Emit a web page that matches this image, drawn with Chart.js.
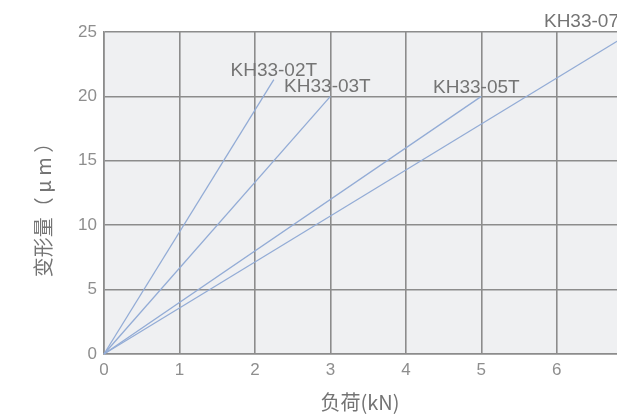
<!DOCTYPE html>
<html>
<head>
<meta charset="utf-8">
<script src="https://cdn.jsdelivr.net/npm/chart.js@4/dist/chart.umd.min.js"></script>
<style>
  html, body { margin: 0; padding: 0; background: #fff; overflow: hidden; }
  #wrap { width: 643px; height: 415px; }
</style>
</head>
<body>
<div id="wrap"><canvas id="chart"></canvas></div>
<script>
// load (kN) vs deformation (um), each model is a straight line from the origin
var models = ['KH33-02T', 'KH33-03T', 'KH33-05T', 'KH33-07T'];
var loadEnd = [2.25, 3, 5, 7];
var deformEnd = [21.3, 20, 20, 25];
var xTicks = [0, 1, 2, 3, 4, 5, 6, 7];
var yTicks = [0, 5, 10, 15, 20, 25];
var xTitle = '负荷(kN)';
var yTitle = '变形量（ μ m ）';

// where each label sits relative to the end of its line (px)
var labelOffset = [[0, -9], [-3, -10], [-5, -9], [-45, -10]];

var lineColor = '#93acd6';
var gridColor = '#8c8c8c';
var textColor = '#747474';

var datasets = models.map(function (m, i) {
    return {
        label: m,
        data: [{x: 0, y: 0}, {x: loadEnd[i], y: deformEnd[i]}],
        borderColor: lineColor,
        borderWidth: 1.3,
        pointRadius: 0,
        fill: false,
        clip: false
    };
});

var plotBg = {
    id: 'plotBg',
    beforeDraw: function (chart) {
        var a = chart.chartArea, c = chart.ctx;
        c.save();
        c.fillStyle = '#eff0f2';
        c.fillRect(a.left, a.top, a.right - a.left, a.bottom - a.top);
        c.restore();
    }
};

var textMarks = {
    id: 'textMarks',
    afterDatasetsDraw: function (chart) {
        var c = chart.ctx, xs = chart.scales.x, ys = chart.scales.y;
        c.save();
        c.font = '19px "Liberation Sans", Arial, sans-serif';
        c.fillStyle = textColor;
        c.textAlign = 'center';
        c.textBaseline = 'middle';
        models.forEach(function (m, i) {
            var px = xs.getPixelForValue(loadEnd[i]) + labelOffset[i][0];
            var py = ys.getPixelForValue(deformEnd[i]) + labelOffset[i][1];
            c.fillText(m, px, py);
        });
        // axis titles
        c.font = '20px "Noto Sans CJK SC", sans-serif';
        c.fillText(xTitle, 360, 402);
        c.translate(43, 205);
        c.rotate(-Math.PI / 2);
        c.fillText(yTitle, 0, 0);
        c.restore();
    }
};

var ctx = document.getElementById('chart').getContext('2d');
var myChart = new Chart(ctx, {
    type: 'line',
    data: { datasets: datasets },
    plugins: [plotBg, textMarks],
    options: {
        maintainAspectRatio: false,
        responsive: true,
        animation: false,
        layout: { padding: { top: 32, right: 4, left: 0, bottom: 0 } },
        plugins: { legend: { display: false }, tooltip: { enabled: false } },
        scales: {
            x: {
                type: 'linear',
                min: 0,
                max: 7,
                afterBuildTicks: function (s) { s.ticks = xTicks.map(function (v) { return {value: v}; }); },
                afterFit: function (s) { s.height = 61; },
                grid: { color: gridColor, lineWidth: 1.6, drawTicks: false },
                border: { color: gridColor, width: 1.6 },
                ticks: { color: '#8e8e8e', font: { size: 17, family: '"Liberation Sans", Arial' }, padding: 6 }
            },
            y: {
                min: 0,
                max: 25,
                afterBuildTicks: function (s) { s.ticks = yTicks.map(function (v) { return {value: v}; }); },
                afterFit: function (s) { s.width = 104; },
                grid: { color: gridColor, lineWidth: 1.6, drawTicks: false },
                border: { color: gridColor, width: 1.6 },
                ticks: { color: '#8e8e8e', font: { size: 17, family: '"Liberation Sans", Arial' }, padding: 7 }
            }
        }
    }
});
</script>
</body>
</html>
